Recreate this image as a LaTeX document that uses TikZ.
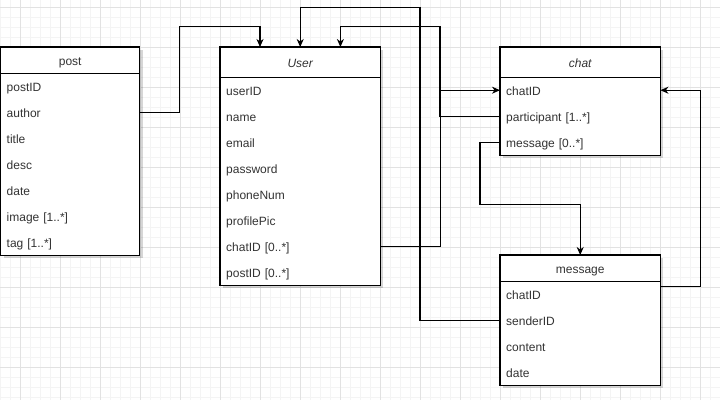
\documentclass[tikz,border=0pt]{standalone}
\usepackage{fontspec}
\setmainfont{Liberation Sans}
\usetikzlibrary{arrows.meta,calc,backgrounds}
\definecolor{txt}{HTML}{333333}
\definecolor{gmaj}{HTML}{E2E2E2}
\definecolor{gmin}{HTML}{F4F4F4}
\begin{document}
\begin{tikzpicture}[x=1pt,y=-1pt,font=\fontsize{12}{14}\selectfont,
  hdr/.style={anchor=north west,inner sep=0pt,text=txt,text height=11pt,text depth=1pt},
  rowitem/.style={anchor=north west,inner xsep=6pt,inner ysep=0pt,minimum height=26pt,align=left,text=txt,text height=11pt,text depth=1pt},
  boxline/.style={draw=black,line width=1.1pt},
  shade/.style={fill=black,opacity=0.16},
  conn/.style={draw=black,line width=1.1pt},
  tip/.style={-{Stealth[length=8pt,width=7pt,inset=2.5pt]}}]
\useasboundingbox (0,0) rectangle (720,400);
\begin{scope}[on background layer]
  \fill[white] (0,0) rectangle (720,400);
  \foreach \x in {0,10,...,720} \draw[gmin,line width=0.8pt] (\x,0) -- (\x,400);
  \foreach \y in {7,17,...,397} \draw[gmin,line width=0.8pt] (0,\y) -- (720,\y);
  \foreach \x in {20,60,...,700} \draw[gmaj,line width=0.8pt] (\x,0) -- (\x,400);
  \foreach \y in {7,47,...,367} \draw[gmaj,line width=0.8pt] (0,\y) -- (720,\y);
\end{scope}

% post
\node[hdr,minimum width=139pt,minimum height=26pt] (p-head) at (0.5,47) {post};
\node[rowitem,text width=127pt] (p-postID) at (0.5,73) {postID};
\node[rowitem,text width=127pt] (p-author) at (0.5,99) {author};
\node[rowitem,text width=127pt] (p-title) at (0.5,125) {title};
\node[rowitem,text width=127pt] (p-desc) at (0.5,151) {desc};
\node[rowitem,text width=127pt] (p-date) at (0.5,177) {date};
\node[rowitem,text width=127pt] (p-image) at (0.5,203) {image [1..*]};
\node[rowitem,text width=127pt] (p-tag) at (0.5,229) {tag [1..*]};

% User
\node[hdr,minimum width=160pt,minimum height=30pt,font=\fontsize{12}{14}\selectfont\itshape] (u-head) at (220,47) {User};
\node[rowitem,text width=148pt] (u-userID) at (220,77) {userID};
\node[rowitem,text width=148pt] (u-name) at (220,103) {name};
\node[rowitem,text width=148pt] (u-email) at (220,129) {email};
\node[rowitem,text width=148pt] (u-password) at (220,155) {password};
\node[rowitem,text width=148pt] (u-phone) at (220,181) {phoneNum};
\node[rowitem,text width=148pt] (u-pic) at (220,207) {profilePic};
\node[rowitem,text width=148pt] (u-chatID) at (220,233) {chatID [0..*]};
\node[rowitem,text width=148pt] (u-postID) at (220,259) {postID [0..*]};

% chat
\node[hdr,minimum width=160pt,minimum height=30pt,font=\fontsize{12}{14}\selectfont\itshape] (c-head) at (500,47) {chat};
\node[rowitem,text width=148pt] (c-chatID) at (500,77) {chatID};
\node[rowitem,text width=148pt] (c-part) at (500,103) {participant [1..*]};
\node[rowitem,text width=148pt] (c-msg) at (500,129) {message [0..*]};

% message
\node[hdr,minimum width=160pt,minimum height=26pt] (m-head) at (500,255) {message};
\node[rowitem,text width=148pt] (m-chatID) at (500,281) {chatID};
\node[rowitem,text width=148pt] (m-sender) at (500,307) {senderID};
\node[rowitem,text width=148pt] (m-content) at (500,333) {content};
\node[rowitem,text width=148pt] (m-date) at (500,359) {date};

\begin{scope}[on background layer]
  \foreach \h/\l in {p-head/p-tag,u-head/u-postID,c-head/c-msg,m-head/m-date}{
    \fill[shade] ($(\h.north west)+(3,3)$) rectangle ($(\l.south east)+(3,3)$);
    \fill[white] (\h.north west) rectangle (\l.south east);
  }
\end{scope}
\foreach \h/\l in {p-head/p-tag,u-head/u-postID,c-head/c-msg,m-head/m-date}{
  \draw[boxline] (\h.north west) rectangle (\l.south east);
  \draw[boxline] (\h.south west) -- (\h.south east);
}

% connectors
\draw[conn,tip] (p-author.east) -- ++(40,0) -- ++(0,-86) -| ($(u-head.north west)+(40,0)$);
\draw[conn,tip] (u-chatID.east) -- ++(60,0) |- (c-chatID.west);
\draw[conn,tip] (c-part.west) -- ++(-60,0) -- ++(0,-90) -| ($(u-head.north east)+(-40,0)$);
\draw[conn,tip] (m-sender.west) -- ++(-80,0) -- ++(0,-313) -| (u-head.north);
\draw[conn,tip] (c-msg.west) -- ++(-20,0) -- ++(0,62) -| (m-head.north);
\draw[conn,tip] ($(m-head.south east)+(0,5)$) -- ++(40,0) |- (c-chatID.east);
\end{tikzpicture}
\end{document}
